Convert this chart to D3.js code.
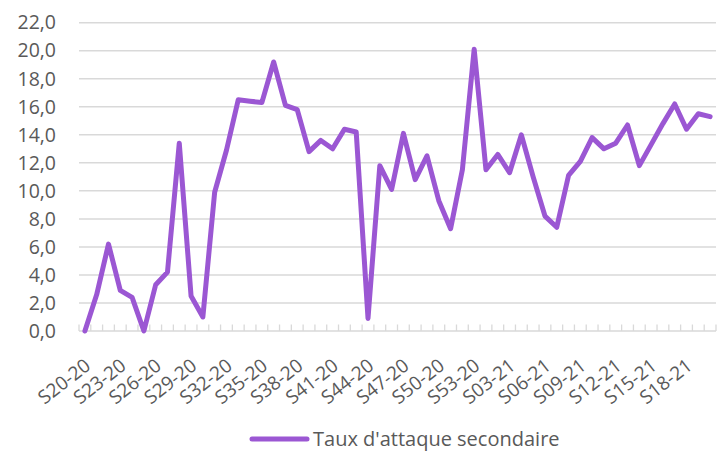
<!DOCTYPE html>
<html>
<head>
<meta charset="utf-8">
<script src="https://cdn.jsdelivr.net/npm/d3@7"></script>
<style>
  html, body { margin: 0; padding: 0; background: #fff; }
  svg { display: block; }
  text { font-family: "Open Sans", sans-serif; fill: #595959; }
</style>
</head>
<body>
<svg id="chart" width="724" height="451"></svg>
<script>
const weeks2020 = ["S20-20","S21-20","S22-20","S23-20","S24-20","S25-20","S26-20","S27-20","S28-20","S29-20",
  "S30-20","S31-20","S32-20","S33-20","S34-20","S35-20","S36-20","S37-20","S38-20","S39-20",
  "S40-20","S41-20","S42-20","S43-20","S44-20","S45-20","S46-20","S47-20","S48-20","S49-20",
  "S50-20","S51-20","S52-20","S53-20"];
const weeks2021 = ["S01-21","S02-21","S03-21","S04-21","S05-21","S06-21","S07-21","S08-21","S09-21","S10-21",
  "S11-21","S12-21","S13-21","S14-21","S15-21","S16-21","S17-21","S18-21","S19-21","S20-21"];
const categories = weeks2020.concat(weeks2021);

const seriesName = "Taux d'attaque secondaire";
const values = [0.0, 2.6, 6.2, 2.9, 2.4, 0.0, 3.3, 4.2, 13.4, 2.5,
  1.0, 9.9, 12.9, 16.5, 16.4, 16.3, 19.2, 16.1, 15.8, 12.8,
  13.6, 13.0, 14.4, 14.2, 0.9, 11.8, 10.1, 14.1, 10.8, 12.5,
  9.3, 7.3, 11.5, 20.1, 11.5, 12.6, 11.3, 14.0, 11.0, 8.2,
  7.4, 11.1, 12.1, 13.8, 13.0, 13.4, 14.7, 11.8, 13.3, 14.8,
  16.2, 14.4, 15.5, 15.3];

const yTicks = [0, 2, 4, 6, 8, 10, 12, 14, 16, 18, 20, 22];
const xLabelStep = 3;

(function () {
const svg = d3.select("#chart");
const mLeft = 79, mRight = 716, mTop = 22.7, mBottom = 331;

const x = d3.scaleBand().domain(categories).range([mLeft, mRight]).paddingInner(0).paddingOuter(0);
const y = d3.scaleLinear().domain([0, 22]).range([mBottom, mTop]);

// gridlines
svg.append("g").selectAll("line").data(yTicks.filter(d => d > 0)).join("line")
  .attr("x1", mLeft).attr("x2", mRight)
  .attr("y1", d => y(d)).attr("y2", d => y(d))
  .attr("stroke", "#d9d9d9").attr("stroke-width", 1.5);

// y axis labels
const yAxis = d3.axisLeft(y).tickValues(yTicks).tickSize(0).tickPadding(0)
  .tickFormat(d => d3.format(".1f")(d).replace(".", ","));
const gy = svg.append("g").attr("transform", `translate(${mLeft - 23},0)`).call(yAxis);
gy.select(".domain").remove();
gy.selectAll("text").style("font-size", "19.5px").attr("fill", "#595959")
  .style("font-family", "'Open Sans', sans-serif");

// x axis baseline + ticks at category boundaries
svg.append("line").attr("x1", mLeft).attr("x2", mRight).attr("y1", mBottom).attr("y2", mBottom)
  .attr("stroke", "#d9d9d9").attr("stroke-width", 1.5);
const boundaries = categories.map(c => x(c)).concat([x(categories[categories.length - 1]) + x.bandwidth()]);
svg.append("g").selectAll("line").data(boundaries).join("line")
  .attr("x1", d => d).attr("x2", d => d)
  .attr("y1", mBottom).attr("y2", mBottom - 6.5)
  .attr("stroke", "#d9d9d9").attr("stroke-width", 1.3);

// x labels
svg.append("g").selectAll("text")
  .data(categories.filter((c, i) => i % xLabelStep === 0)).join("text")
  .attr("transform", d => `translate(${x(d) + x.bandwidth() / 2 + 7},${mBottom + 37}) rotate(-38)`)
  .attr("text-anchor", "end")
  .style("font-size", "19px")
  .text(d => d);

// line
const line = d3.line()
  .x((d, i) => x(categories[i]) + x.bandwidth() / 2)
  .y(d => y(d));
svg.append("path").datum(values)
  .attr("d", line)
  .attr("fill", "none")
  .attr("stroke", "#9b57d3")
  .attr("stroke-width", 5)
  .attr("stroke-linejoin", "round")
  .attr("stroke-linecap", "round");

// legend
const lg = svg.append("g").attr("transform", "translate(252,439)");
lg.append("line").attr("x1", 0).attr("x2", 55).attr("y1", 0).attr("y2", 0)
  .attr("stroke", "#9b57d3").attr("stroke-width", 5).attr("stroke-linecap", "round");
lg.append("text").attr("x", 61).attr("y", 0).attr("dy", "0.34em")
  .style("font-size", "20px").text(seriesName);
})();
</script>
</body>
</html>
